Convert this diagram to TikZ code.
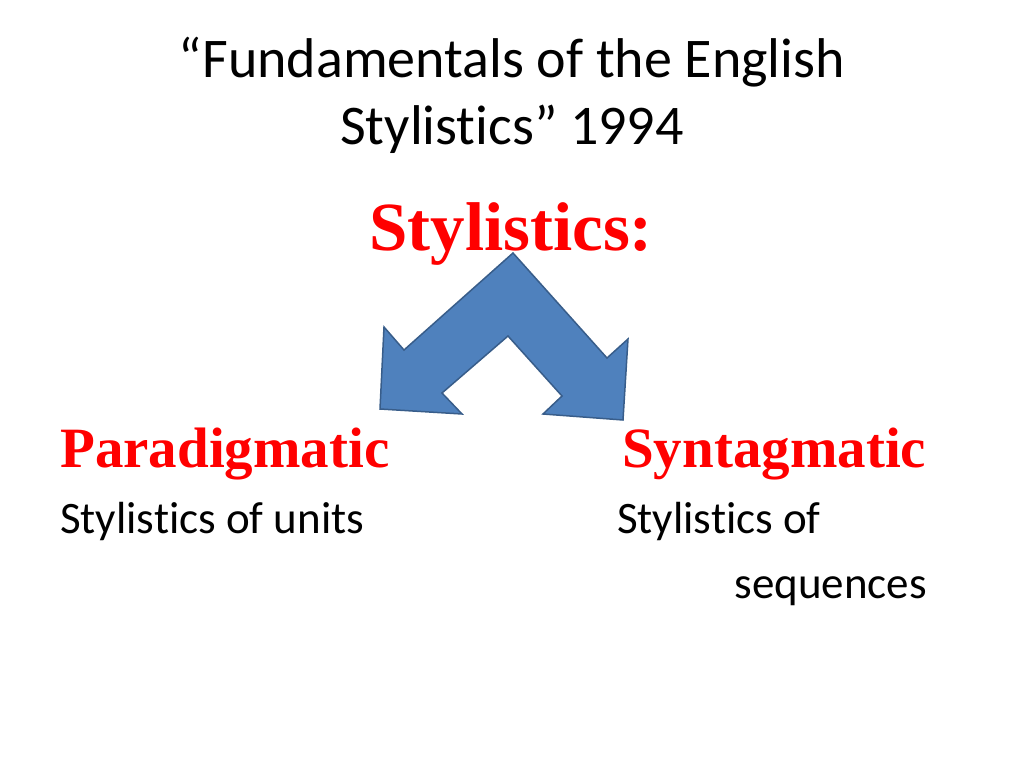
\documentclass[tikz,border=0pt]{standalone}
\usepackage{fontspec}
\setmainfont[Ligatures={NoCommon,NoContextual}]{Carlito}
\newfontfamily\tnr{Liberation Serif}
\begin{document}
\begin{tikzpicture}[x=1pt,y=-1pt,
 title/.style={font=\fontsize{56}{64}\selectfont,anchor=base,inner sep=0},
 head/.style={font=\tnr\bfseries\fontsize{57}{66}\selectfont,text=red,inner sep=0},
 body/.style={font=\fontsize{45}{52}\selectfont,inner sep=0}]
\useasboundingbox (0,0) rectangle (1024,767);
\node[title] (t1) at (512,78) {“Fundamentals of the English};
\node[title] (t2) at (512,145) {Stylistics” 1994};
\node[head,font=\tnr\bfseries\fontsize{69}{78}\selectfont,anchor=base] (s) at (511,250) {Stylistics:};
\draw[fill={rgb,255:red,79;green,129;blue,189},draw={rgb,255:red,56;green,93;blue,138},line width=1.5pt,line join=miter]
 (513,253) -- (607,358) -- (628,339) -- (623,420) -- (543,414) -- (562,396) -- (508,336)
 -- (442,393) -- (462,414) -- (380,409) -- (384,327) -- (404,350) -- cycle;
\node[head,anchor=base west] (p) at (60,467) {Paradigmatic};
\node[head,anchor=base west] (q) at (622,467) {Syntagmatic};
\node[body,anchor=base west] (u) at (60,533) {Stylistics of units};
\node[body,anchor=base west] (v) at (617,533) {Stylistics of};
\node[body,anchor=base east] (w) at (927,598) {sequences};
\end{tikzpicture}
\end{document}
